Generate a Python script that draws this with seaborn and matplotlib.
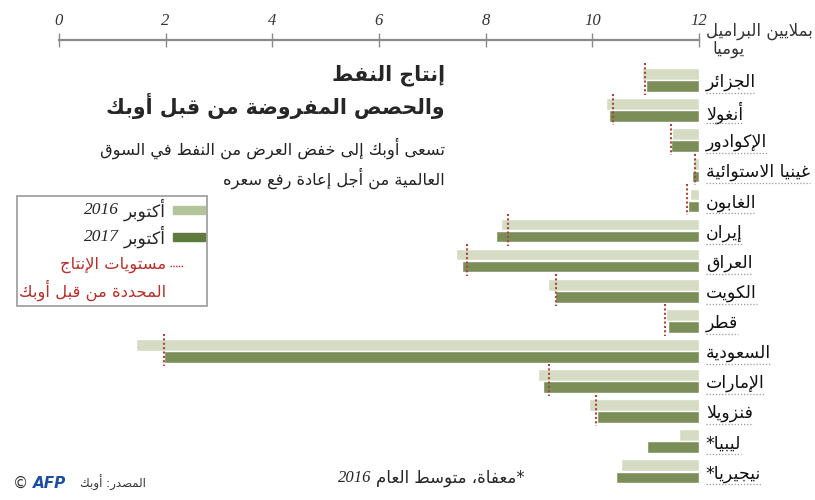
import re
import numpy as np
import pandas as pd
import matplotlib
matplotlib.use("Agg")
import matplotlib.pyplot as plt
import seaborn as sns
from matplotlib.patches import Rectangle
from matplotlib.lines import Line2D

# Data (millions of barrels per day)
countries = ["الجزائر", "أنغولا", "الإكوادور", "غينيا الاستوائية", "الغابون", "إيران",
             "العراق", "الكويت", "قطر", "السعودية", "الإمارات", "فنزويلا", "ليبيا*", "نيجيريا*"]
oct_2016 = [1.07, 1.74, 0.51, 0.11, 0.17, 3.71, 4.56, 2.84, 0.61, 10.55, 3.01, 2.06, 0.38, 1.47]
oct_2017 = [1.00, 1.68, 0.53, 0.13, 0.20, 3.81, 4.44, 2.70, 0.59, 10.04, 2.92, 1.91, 0.98, 1.56]
quota = [1.02, 1.62, 0.53, 0.08, 0.22, 3.59, 4.35, 2.69, 0.64, 10.04, 2.81, 1.93, np.nan, np.nan]
years = ["أكتوبر 2016", "أكتوبر 2017"]
ticks = [0, 2, 4, 6, 8, 10, 12]

# --------------------------------
# minimal Arabic shaping + RTL ordering (matplotlib has no text layout for Arabic)
# --------------------------------
DUAL = {"ئ": 0xFE89, "ب": 0xFE8F, "ت": 0xFE95, "ث": 0xFE99, "ج": 0xFE9D, "ح": 0xFEA1,
        "خ": 0xFEA5, "س": 0xFEB1, "ش": 0xFEB5, "ص": 0xFEB9, "ض": 0xFEBD, "ط": 0xFEC1,
        "ظ": 0xFEC5, "ع": 0xFEC9, "غ": 0xFECD, "ف": 0xFED1, "ق": 0xFED5, "ك": 0xFED9,
        "ل": 0xFEDD, "م": 0xFEE1, "ن": 0xFEE5, "ه": 0xFEE9, "ي": 0xFEF1}
RIGHT = {"آ": 0xFE81, "أ": 0xFE83, "ؤ": 0xFE85, "إ": 0xFE87, "ا": 0xFE8D, "ة": 0xFE93,
         "د": 0xFEA9, "ذ": 0xFEAB, "ر": 0xFEAD, "ز": 0xFEAF, "و": 0xFEED, "ى": 0xFEEF}
LAMALEF = {"آ": 0xFEF5, "أ": 0xFEF7, "إ": 0xFEF9, "ا": 0xFEFB}


def shape(s):
    out, i = [], 0
    while i < len(s):
        c = s[i]
        prev = i > 0 and s[i - 1] in DUAL
        if c == "ل" and i + 1 < len(s) and s[i + 1] in LAMALEF:
            out.append(chr(LAMALEF[s[i + 1]] + (1 if prev else 0)))
            i += 2
            continue
        nxt = i + 1 < len(s) and (s[i + 1] in DUAL or s[i + 1] in RIGHT)
        if c in DUAL:
            b = DUAL[c]
            out.append(chr(b + 3 if prev and nxt else b + 1 if prev else b + 2 if nxt else b))
        elif c in RIGHT:
            out.append(chr(RIGHT[c] + (1 if prev else 0)))
        else:
            out.append(c)
        i += 1
    return "".join(out)


def ar(s):
    runs = re.findall(r"[0-9A-Za-z.]+|[^0-9A-Za-z.]+", shape(s))
    return "".join(r if re.match(r"[0-9A-Za-z]", r) else r[::-1] for r in reversed(runs))


W, H = 815, 500
fx = lambda x: x / W
fy = lambda y: 1 - y / H

sns.set_theme(style="white")
plt.rcParams["font.family"] = ["DejaVu Sans"]

df = pd.DataFrame({
    "country": countries * 2,
    "year": [years[0]] * len(countries) + [years[1]] * len(countries),
    "value": oct_2016 + oct_2017,
})

fig = plt.figure(figsize=(8.15, 5.0), dpi=100)
ax = fig.add_axes([fx(59), 10 / H, 640 / W, 450 / H])

light, dark = "#d5dcc3", "#7b8e58"
sns.barplot(data=df, y="country", x="value", hue="year", orient="h", order=countries,
            palette=[light, dark], width=0.8, gap=0.03, saturation=1, legend=False, ax=ax)

# quota lines
ypos = np.arange(len(countries))
q = np.array(quota)
ok = ~np.isnan(q)
ax.vlines(q[ok], ypos[ok] - 0.55, ypos[ok] + 0.5, colors="#a6483c",
          linestyles=(0, (1, 1.1)), linewidth=1.5, zorder=5)

ax.set_xlim(12, 0)
ax.set_ylim(13.62, -1.33)
ax.set_xticks(ticks)
ax.xaxis.set_major_formatter(plt.FuncFormatter(lambda v, p: f"{12 - v:g}"))
ax.xaxis.tick_top()
ax.tick_params(axis="x", direction="inout", length=10, width=1, color="#8a8a8a", pad=3,
               labelsize=12, labelcolor="#333333")
for lab in ax.get_xticklabels():
    lab.set_family("Liberation Serif")
    lab.set_style("italic")
ax.set_xlabel("")
ax.set_ylabel("")
for s in ["left", "right", "bottom"]:
    ax.spines[s].set_visible(False)
ax.spines["top"].set_color("#8a8a8a")
ax.spines["top"].set_linewidth(1.6)

ax.yaxis.tick_right()
ax.set_yticks(ypos)
ax.set_yticklabels([ar(c) for c in countries])
ax.tick_params(axis="y", length=0, pad=5, labelsize=12.5, labelcolor="#111111")

# unit label
fig.text(fx(706), fy(31), ar("بملايين البراميل"), ha="left", va="center", fontsize=12, color="#333333")
fig.text(fx(712), fy(49), ar("يوميا"), ha="left", va="center", fontsize=12, color="#333333")

# titles
fig.text(fx(445), fy(75), ar("إنتاج النفط"), ha="right", va="center", fontsize=14.8, weight="bold")
fig.text(fx(445), fy(106), ar("والحصص المفروضة من قبل أوبك"), ha="right", va="center",
         fontsize=14.8, weight="bold")
fig.text(fx(445), fy(148), ar("تسعى أوبك إلى خفض العرض من النفط في السوق"), ha="right",
         va="center", fontsize=11.7, color="#222222")
fig.text(fx(445), fy(178), ar("العالمية من أجل إعادة رفع سعره"), ha="right", va="center",
         fontsize=11.7, color="#222222")

# legend box
fig.patches.append(Rectangle((fx(17), fy(306)), 190 / W, 110 / H, transform=fig.transFigure,
                             fill=False, edgecolor="#9a9a9a", linewidth=1.2))
fig.patches.append(Rectangle((fx(173), fy(214)), 32 / W, 8 / H, transform=fig.transFigure,
                             color="#b3c498"))
fig.patches.append(Rectangle((fx(173), fy(241)), 32 / W, 8 / H, transform=fig.transFigure,
                             color="#5e7a3c"))
fig.lines.append(Line2D([fx(170), fx(184)], [fy(266), fy(266)], transform=fig.transFigure,
                        color="#b5302a", linestyle=(0, (1, 1)), linewidth=1))

pending = []


def mixed(x, y, word, num, size):
    t = fig.text(fx(x), fy(y), ar(word), ha="right", va="center", fontsize=size)
    pending.append((t, y, num, size))


mixed(166, 210, "أكتوبر", "2016", 12.5)
mixed(166, 237, "أكتوبر", "2017", 12.5)
mixed(525, 478, "*معفاة، متوسط العام", "2016", 12)
fig.text(fx(166), fy(265), ar("مستويات الإنتاج"), ha="right", va="center", fontsize=11.8, color="#b5302a")
fig.text(fx(166), fy(290), ar("المحددة من قبل أوبك"), ha="right", va="center", fontsize=11.8, color="#b5302a")

# source / credit
fig.text(fx(146), fy(483), ar("المصدر: أوبك"), ha="right", va="center", fontsize=8.5, color="#333333")
fig.text(fx(33), fy(483), "AFP", ha="left", va="center", fontsize=11, weight="bold",
         style="italic", color="#1d4fa0")
fig.text(fx(13), fy(483), "©", ha="left", va="center", fontsize=11, color="#333333")

fig.canvas.draw()
r = fig.canvas.get_renderer()
for t, y, num, size in pending:
    bb = t.get_window_extent(r)
    fig.text((bb.x0 - 5) / W, fy(y), num, ha="right", va="center", fontsize=size,
             family="Liberation Serif", style="italic")

# dotted underline below each country name
for i, lab in enumerate(ax.get_yticklabels()):
    bb = lab.get_window_extent(r)
    yy = fy(80 + 30.1 * i + 13)
    fig.lines.append(Line2D([bb.x0 / W, bb.x1 / W], [yy, yy], transform=fig.transFigure,
                            color="#9a9a9a", linestyle=(0, (1, 1.5)), linewidth=0.9))

fig.savefig("out.png", dpi=100)
